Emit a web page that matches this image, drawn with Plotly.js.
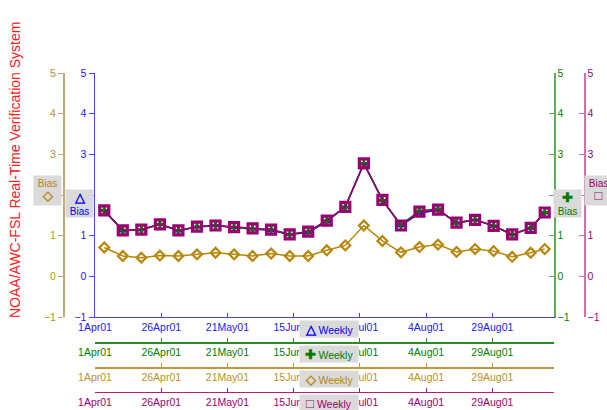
<!DOCTYPE html>
<html>
<head>
<meta charset="utf-8">
<script src="https://cdn.plot.ly/plotly-3.0.1.min.js"></script>
<style>html,body{margin:0;padding:0;background:#fff;}#chart{width:607px;height:410px;}</style>
</head>
<body>
<div id="chart"></div>
<script>
// ---- data ----
const weekDates = ['2001-04-04 12:00','2001-04-11 12:00','2001-04-18 12:00','2001-04-25 12:00',
  '2001-05-02 12:00','2001-05-09 12:00','2001-05-16 12:00','2001-05-23 12:00','2001-05-30 12:00',
  '2001-06-06 12:00','2001-06-13 12:00','2001-06-20 12:00','2001-06-27 12:00','2001-07-04 12:00',
  '2001-07-11 12:00','2001-07-18 12:00','2001-07-25 12:00','2001-08-01 12:00','2001-08-08 12:00',
  '2001-08-15 12:00','2001-08-22 12:00','2001-08-29 12:00','2001-09-05 12:00','2001-09-12 12:00',
  '2001-09-17 19:00'];
const blueBias   = [1.62,1.12,1.15,1.28,1.12,1.22,1.25,1.20,1.17,1.13,1.03,1.08,1.35,1.71,2.77,1.88,1.25,1.55,1.63,1.32,1.39,1.24,1.03,1.19,1.57];
const greenBias  = [1.62,1.13,1.14,1.28,1.13,1.21,1.25,1.21,1.16,1.15,1.03,1.10,1.37,1.70,2.78,1.87,1.27,1.61,1.66,1.30,1.39,1.24,1.02,1.19,1.57];
const tanBias    = [0.71,0.50,0.46,0.51,0.50,0.54,0.58,0.54,0.50,0.56,0.50,0.50,0.64,0.76,1.25,0.87,0.59,0.72,0.78,0.60,0.67,0.62,0.48,0.58,0.67];
const purpleBias = [1.62,1.13,1.15,1.28,1.13,1.22,1.25,1.21,1.18,1.15,1.03,1.10,1.37,1.71,2.78,1.88,1.25,1.59,1.64,1.32,1.39,1.24,1.03,1.19,1.57];
const xTickVals = ['2001-04-01','2001-04-26','2001-05-21','2001-06-15','2001-07-10','2001-08-04','2001-08-29'];
const xTickText = ['1Apr01','26Apr01','21May01','15Jun01','10Jul01','4Aug01','29Aug01'];
const yTickVals = [-1,0,1,2,3,4,5];
const xRange = ['2001-04-01','2001-09-21 07:00'];
const yRange = [-1,5];

// ---- styling ----
const FONT = 'Liberation Sans, Arial, sans-serif';
const C = {
  blue:   {line:'#0000ff', axis:'#4444ff', text:'#2020ff'},
  green:  {line:'#007a00', axis:'#5aaf5a', xaxis:'#2a8a2a', text:'#008000'},
  tan:    {line:'#b8860b', axis:'#c8a870', xaxis:'#c0983a', text:'#b8902e'},
  purple: {line:'#990070', axis:'#d070b0', xaxis:'#b02080', text:'#a00070'}
};
const W = 607, H = 410, MT = 73;
const PH = H - MT;
const px = x => x / W;
const py = y => (H - y) / PH;

const traces = [
  {x: weekDates, y: blueBias, xaxis:'x', yaxis:'y', mode:'lines+markers', type:'scatter',
   line:{color:C.blue.line, width:1.5}, marker:{symbol:'triangle-up', size:7, color:C.blue.line}},
  {x: weekDates, y: greenBias, xaxis:'x2', yaxis:'y3', mode:'lines+markers', type:'scatter',
   line:{color:C.green.line, width:1.5}, marker:{symbol:'cross', size:7, color:C.green.line}},
  {x: weekDates, y: tanBias, xaxis:'x3', yaxis:'y2', mode:'lines+markers', type:'scatter',
   line:{color:C.tan.line, width:1.5}, marker:{symbol:'diamond-open', size:7.5, color:C.tan.line, line:{width:2.2}}},
  {x: weekDates, y: purpleBias, xaxis:'x4', yaxis:'y4', mode:'lines+markers', type:'scatter',
   line:{color:C.purple.line, width:1.5}, marker:{symbol:'square-open', size:9, color:C.purple.line, line:{width:3.2}}}
];

function xax(col, extra){
  return Object.assign({type:'date', range:xRange, tickmode:'array', tickvals:xTickVals, ticktext:xTickText,
    showline:true, linecolor:col.xaxis||col.axis, linewidth:1.2, ticks:'inside', ticklen:4, tickcolor:col.xaxis||col.axis,
    tickfont:{family:FONT, size:10.5, color:col.text}, showgrid:false, zeroline:false}, extra);
}
function yax(col, extra){
  return Object.assign({range:yRange, tickmode:'array', tickvals:yTickVals, showline:true, linecolor:col.axis,
    linewidth:1.5, ticklen:5, tickcolor:col.axis, tickfont:{family:FONT, size:10.5, color:col.text},
    showgrid:false, zeroline:false}, extra);
}
const xdom = [px(95), px(554)];

const box = '#dadada';
function ann(text, x, y, color, extra){
  return Object.assign({text:text, x:px(x), y:py(y), xref:'paper', yref:'paper', showarrow:false,
    xanchor:'center', yanchor:'middle', bgcolor:box, font:{family:FONT, size:10, color:color}}, extra);
}
const sym = s => '<span style="font-size:13px"><b>' + s + '</b></span>';

const layout = {
  width:W, height:H, margin:{l:0, r:0, t:MT, b:0}, showlegend:false,
  paper_bgcolor:'#ffffff', plot_bgcolor:'#ffffff',
  xaxis:  xax(C.blue, {domain:xdom, anchor:'y'}),
  xaxis2: xax(C.green, {overlaying:'x', anchor:'free', position:py(342.3)}),
  xaxis3: xax(C.tan, {overlaying:'x', anchor:'free', position:py(367.3)}),
  xaxis4: xax(C.purple, {overlaying:'x', anchor:'free', position:py(391.7)}),
  yaxis:  yax(C.blue, {domain:[py(317), 1], anchor:'x', side:'left', ticks:'outside'}),
  yaxis2: yax(C.tan, {overlaying:'y', anchor:'free', position:px(63), side:'left', ticks:'outside'}),
  yaxis3: yax(C.green, {overlaying:'y', anchor:'x', side:'right', ticks:'inside'}),
  yaxis4: yax(C.purple, {overlaying:'y', anchor:'free', position:px(584), side:'right', ticks:'inside'}),
  annotations: [
    {text:'NOAA/AWC-FSL Real-Time Verification System', x:px(15), y:py(170), xref:'paper', yref:'paper',
     showarrow:false, textangle:-90, xanchor:'center', yanchor:'middle', font:{family:FONT, size:14, color:'#ff2020'}},
    ann('Bias<br>' + sym('◇'), 47, 190, C.tan.line, {width:25, height:27}),
    ann(sym('△') + '<br>Bias', 79, 203, C.blue.line, {width:25, height:25}),
    ann(sym('✚') + '<br>Bias', 567, 203, C.green.line, {width:25, height:25}),
    ann('Bias<br>' + sym('□'), 598, 190, C.purple.line, {width:25, height:27}),
    ann(sym('△') + ' Weekly', 329, 329, C.blue.line, {width:56, height:14, font:{family:FONT, size:10.5, color:C.blue.line}}),
    ann(sym('✚') + ' Weekly', 329, 354, C.green.line, {width:56, height:14, font:{family:FONT, size:10.5, color:C.green.line}}),
    ann(sym('◇') + ' Weekly', 329, 379, C.tan.line, {width:56, height:14, font:{family:FONT, size:10.5, color:C.tan.line}}),
    ann(sym('□') + ' Weekly', 329, 403, C.purple.line, {width:56, height:14, font:{family:FONT, size:10.5, color:C.purple.line}})
  ]
};

Plotly.newPlot('chart', traces, layout, {displayModeBar:false, staticPlot:true});
</script>
</body>
</html>
